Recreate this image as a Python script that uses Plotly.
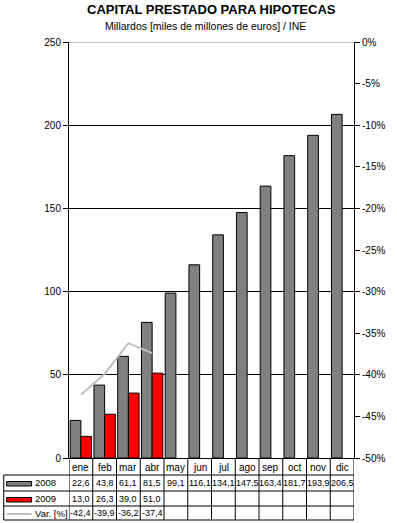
import plotly.graph_objects as go

categories = ["ene", "feb", "mar", "abr", "may", "jun", "jul", "ago", "sep", "oct", "nov", "dic"]
values_2008 = [22.6, 43.8, 61.1, 81.5, 99.1, 116.1, 134.1, 147.5, 163.4, 181.7, 193.9, 206.5]
values_2009 = [13.0, 26.3, 39.0, 51.0]
var_pct = [-42.4, -39.9, -36.2, -37.4]
left_ticks = [0, 50, 100, 150, 200, 250]
right_ticks = [0, -5, -10, -15, -20, -25, -30, -35, -40, -45, -50]

W, H = 397, 523
L, R, T, B = 69, 366, 42, 458
FONT = "Liberation Sans, Arial, sans-serif"


def py(p):
    return (B - p) / (B - T)


def pxx(p):
    return (p - L) / (R - L)


def fmt(v):
    return f"{v:.1f}".replace(".", ",")


fig = go.Figure()
fig.add_trace(go.Bar(x=categories, y=values_2008, name="2008",
                     marker=dict(color="#808080", line=dict(color="black", width=1))))
fig.add_trace(go.Bar(x=categories[:len(values_2009)], y=values_2009, name="2009",
                     marker=dict(color="#FF0000", line=dict(color="black", width=1))))
fig.add_trace(go.Scatter(x=categories[:len(var_pct)], y=var_pct, name="Var. [%]", yaxis="y2",
                         mode="lines", line=dict(color="#C0C0C0", width=2)))

shapes = []
annotations = []

# grey top border at 250
shapes.append(dict(type="line", xref="paper", yref="y", x0=0, x1=1, y0=250, y1=250,
                   line=dict(color="#808080", width=1), layer="above"))

# table rows
row_lines = [475, 491, 506, 520]
for yl in row_lines:
    shapes.append(dict(type="line", xref="paper", yref="paper", x0=pxx(1), x1=1,
                       y0=py(yl), y1=py(yl), line=dict(color="black", width=1)))
# left border of table
shapes.append(dict(type="line", xref="paper", yref="paper", x0=pxx(1), x1=pxx(1),
                   y0=py(475), y1=py(520), line=dict(color="black", width=1)))
# category boundaries
n = len(categories)
for k in range(n + 1):
    shapes.append(dict(type="line", xref="x", yref="paper", x0=k - 0.5, x1=k - 0.5,
                       y0=py(B), y1=py(520), line=dict(color="black", width=1)))

row_centers = [467, 483, 498.5, 513]
cfont = dict(family=FONT, size=10, color="black")
nfont = dict(family=FONT, size=9, color="black")
for i, c in enumerate(categories):
    annotations.append(dict(x=c, xref="x", y=py(row_centers[0]), yref="paper", text=c,
                            showarrow=False, font=cfont, xanchor="center", yanchor="middle"))
for i, v in enumerate(values_2008):
    annotations.append(dict(x=categories[i], xref="x", y=py(row_centers[1]), yref="paper", text=fmt(v),
                            showarrow=False, font=nfont, xanchor="center", yanchor="middle"))
for i, v in enumerate(values_2009):
    annotations.append(dict(x=categories[i], xref="x", y=py(row_centers[2]), yref="paper", text=fmt(v),
                            showarrow=False, font=nfont, xanchor="center", yanchor="middle"))
for i, v in enumerate(var_pct):
    annotations.append(dict(x=categories[i], xref="x", y=py(row_centers[3]), yref="paper", text=fmt(v),
                            showarrow=False, font=nfont, xanchor="center", yanchor="middle"))

# legend keys
shapes.append(dict(type="rect", xref="paper", yref="paper", x0=pxx(4), x1=pxx(30),
                   y0=py(486), y1=py(481.5), fillcolor="#808080", line=dict(color="black", width=1)))
shapes.append(dict(type="rect", xref="paper", yref="paper", x0=pxx(4), x1=pxx(30),
                   y0=py(502), y1=py(497.5), fillcolor="#FF0000", line=dict(color="black", width=1)))
shapes.append(dict(type="line", xref="paper", yref="paper", x0=pxx(4), x1=pxx(30),
                   y0=py(514), y1=py(514), line=dict(color="#C0C0C0", width=2)))
for name, yc in [("2008", row_centers[1]), ("2009", row_centers[2]), ("Var. [%]", row_centers[3])]:
    annotations.append(dict(x=pxx(32), xref="paper", y=py(yc), yref="paper", text=name,
                            showarrow=False, font=dict(family=FONT, size=9.5, color="black"),
                            xanchor="left", yanchor="middle"))

# titles
annotations.append(dict(x=0.5, xref="paper", y=py(9.5), yref="paper", text="<b>CAPITAL PRESTADO PARA HIPOTECAS</b>",
                        showarrow=False, font=dict(family=FONT, size=13, color="black"),
                        xanchor="center", yanchor="middle"))
annotations.append(dict(x=pxx(211.5), xref="paper", y=py(26.5), yref="paper",
                        text="Millardos [miles de millones de euros] / INE",
                        showarrow=False, font=dict(family=FONT, size=10.5, color="black"),
                        xanchor="center", yanchor="middle"))

fig.update_layout(
    width=W, height=H,
    margin=dict(l=L, r=W - R, t=T, b=H - B, pad=0),
    paper_bgcolor="white", plot_bgcolor="white",
    barmode="group", bargap=0.1, bargroupgap=0,
    showlegend=False,
    font=dict(family=FONT, size=10, color="black"),
    shapes=shapes, annotations=annotations,
    xaxis=dict(categoryorder="array", categoryarray=categories, showticklabels=False,
               ticks="", showline=True, linecolor="black", linewidth=1, showgrid=False,
               range=[-0.5, n - 0.5]),
    yaxis=dict(range=[0, 250], tickvals=left_ticks, showgrid=True, gridcolor="black", gridwidth=1,
               showline=True, linecolor="black", linewidth=1, ticks="outside", ticklen=5,
               tickcolor="black", zeroline=False, tickfont=dict(family=FONT, size=10)),
    yaxis2=dict(range=[-50, 0], overlaying="y", side="right", tickvals=right_ticks,
                ticktext=[f"{t}%" for t in right_ticks], showgrid=False, zeroline=False,
                showline=True, linecolor="black", linewidth=1, ticks="outside", ticklen=5,
                tickcolor="black", tickfont=dict(family=FONT, size=10)),
)

fig.write_html("out.html", config={"displayModeBar": False},
               post_script="document.body.style.margin='0';document.body.style.padding='0';")
